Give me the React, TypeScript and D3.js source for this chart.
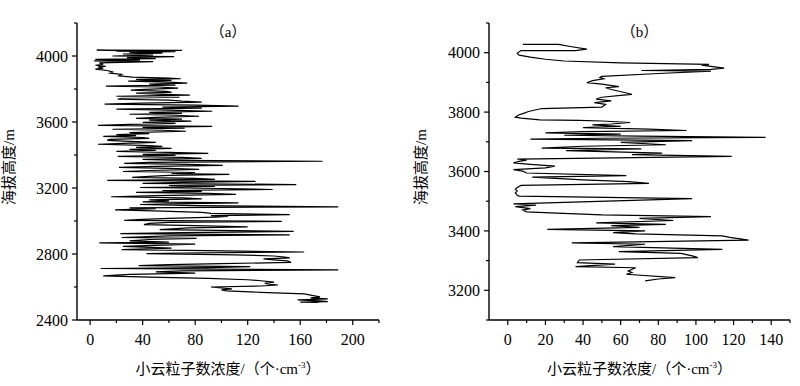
import React from "react";
import * as d3 from "d3";

// Panel (a): [altitude m, concentration] from top to bottom
const profileA: [number, number][] = [
  [4030, 42], [4036, 5], [4034, 70], [4030, 20], [4026, 65], [4022, 30], [4018, 55], [4012, 25],
  [4006, 48], [4000, 17], [3996, 64], [3990, 28], [3984, 50], [3980, 4], [3975, 38], [3970, 3],
  [3966, 48], [3958, 7], [3950, 10], [3944, 4], [3938, 12], [3932, 6], [3926, 10], [3920, 4],
  [3912, 13], [3904, 17], [3896, 15], [3888, 24], [3880, 22], [3872, 32], [3866, 60], [3862, 69],
  [3858, 35], [3852, 62], [3848, 29], [3842, 60], [3836, 74], [3830, 45], [3824, 65], [3818, 12],
  [3812, 52], [3805, 67], [3798, 42], [3793, 31], [3786, 58], [3780, 62], [3775, 35], [3768, 55],
  [3763, 76], [3756, 20], [3750, 68], [3744, 24], [3738, 21], [3732, 60], [3726, 70], [3720, 85],
  [3714, 40], [3708, 11], [3702, 80], [3696, 113], [3690, 55], [3684, 85], [3678, 20], [3672, 60],
  [3665, 93], [3658, 45], [3652, 70], [3647, 30], [3641, 65], [3635, 83], [3628, 50], [3622, 35],
  [3617, 70], [3611, 45], [3605, 77], [3598, 40], [3592, 65], [3586, 30], [3580, 6], [3574, 93],
  [3568, 40], [3562, 72], [3556, 17], [3550, 55], [3544, 73], [3536, 30], [3530, 45], [3524, 20],
  [3518, 35], [3513, 10], [3506, 40], [3501, 45], [3495, 15], [3489, 13], [3482, 30], [3476, 50],
  [3470, 25], [3465, 6], [3458, 40], [3452, 55], [3446, 35], [3440, 62], [3434, 30], [3428, 50],
  [3422, 20], [3416, 60], [3410, 90], [3404, 40], [3398, 65], [3392, 21], [3386, 70], [3380, 85],
  [3374, 40], [3368, 68], [3362, 177], [3355, 45], [3349, 26], [3343, 75], [3337, 101], [3331, 50],
  [3325, 22], [3319, 60], [3313, 83], [3306, 45], [3300, 25], [3294, 80], [3288, 62], [3282, 106],
  [3276, 60], [3270, 45], [3264, 32], [3258, 80], [3252, 95], [3246, 13], [3240, 126], [3234, 70],
  [3228, 40], [3221, 157], [3215, 60], [3209, 95], [3203, 38], [3197, 100], [3191, 139], [3185, 55],
  [3179, 85], [3173, 35], [3167, 90], [3161, 111], [3154, 50], [3147, 16], [3140, 70], [3134, 85],
  [3128, 45], [3122, 60], [3116, 40], [3110, 113], [3104, 60], [3100, 38], [3093, 80], [3086, 189],
  [3080, 30], [3075, 50], [3068, 19], [3060, 55], [3052, 85], [3046, 92], [3039, 152], [3032, 92],
  [3028, 105], [3024, 95], [3016, 60], [3010, 40], [3004, 26], [2998, 146], [2992, 60], [2986, 45],
  [2978, 41], [2972, 80], [2964, 120], [2958, 75], [2948, 53], [2937, 155], [2930, 70], [2923, 23],
  [2916, 152], [2910, 60], [2900, 24], [2895, 81], [2888, 45], [2880, 30], [2872, 60], [2867, 7],
  [2860, 80], [2852, 50], [2846, 25], [2836, 62], [2826, 24], [2820, 89], [2812, 163], [2806, 70],
  [2802, 43], [2795, 110], [2788, 140], [2782, 148], [2776, 152], [2770, 132], [2764, 140], [2758, 150],
  [2749, 153], [2742, 100], [2736, 60], [2729, 37], [2724, 122], [2718, 90], [2712, 8], [2704, 189],
  [2698, 70], [2692, 50], [2684, 80], [2676, 30], [2668, 10], [2660, 45], [2652, 90], [2644, 120],
  [2638, 130], [2630, 140], [2624, 133], [2618, 135], [2612, 143], [2606, 130], [2600, 92], [2594, 100],
  [2589, 108], [2582, 100], [2576, 104], [2568, 130], [2558, 163], [2548, 170], [2540, 175], [2534, 168],
  [2528, 181], [2522, 158], [2516, 175], [2511, 181], [2508, 160], [2506, 174],
];

// Panel (b): [altitude m, concentration] from top to bottom
const profileB: [number, number][] = [
  [4028, 8], [4028, 27], [4020, 34], [4012, 42], [4007, 36], [4007, 7], [3998, 5], [3992, 6],
  [3985, 12], [3978, 20], [3972, 30], [3966, 60], [3961, 107], [3958, 103], [3952, 110], [3948, 115],
  [3944, 108], [3940, 71], [3938, 108], [3930, 80], [3920, 50], [3917, 49], [3912, 51], [3906, 45],
  [3899, 42], [3894, 50], [3886, 59], [3882, 52], [3876, 55], [3866, 62], [3860, 66], [3856, 60],
  [3850, 50], [3844, 47], [3838, 55], [3832, 46], [3826, 52], [3817, 50], [3812, 18], [3802, 11],
  [3795, 8], [3791, 6], [3783, 4], [3780, 7], [3774, 17], [3772, 38], [3770, 50], [3765, 65],
  [3760, 55], [3757, 45], [3752, 60], [3748, 40], [3743, 75], [3738, 95], [3734, 40], [3730, 20],
  [3726, 60], [3722, 30], [3719, 70], [3715, 137], [3712, 50], [3709, 12], [3704, 98], [3698, 60],
  [3690, 84], [3685, 40], [3679, 18], [3676, 71], [3670, 31], [3662, 82], [3657, 66], [3651, 119],
  [3642, 5], [3638, 10], [3634, 6], [3629, 3], [3624, 12], [3618, 25], [3612, 20], [3606, 3],
  [3601, 8], [3595, 10], [3586, 63], [3581, 13], [3572, 40], [3566, 64], [3560, 75], [3553, 7],
  [3546, 5], [3540, 4], [3534, 5], [3528, 4], [3520, 5], [3517, 6], [3509, 98], [3505, 80],
  [3496, 30], [3491, 3], [3487, 15], [3482, 4], [3475, 12], [3470, 8], [3464, 10], [3460, 26],
  [3454, 50], [3448, 108], [3442, 70], [3435, 88], [3427, 47], [3422, 84], [3418, 55], [3412, 70],
  [3405, 21], [3400, 73], [3394, 56], [3390, 68], [3383, 114], [3378, 118], [3369, 128], [3360, 34],
  [3355, 73], [3347, 56], [3338, 114], [3330, 59], [3324, 92], [3316, 98], [3310, 101], [3302, 38],
  [3293, 37], [3288, 57], [3280, 36], [3276, 68], [3265, 64], [3260, 66], [3254, 63], [3243, 89],
  [3238, 80], [3232, 73],
];

const xMajorA = [0, 40, 80, 120, 160, 200];
const xMinorA = [20, 60, 100, 140, 180, 220];
const yMajorA = [2400, 2800, 3200, 3600, 4000];
const yMinorA = [2600, 3000, 3400, 3800, 4200];

const xMajorB = [0, 20, 40, 60, 80, 100, 120, 140];
const xMinorB = [10, 30, 50, 70, 90, 110, 130, 150];
const yMajorB = [3200, 3400, 3600, 3800, 4000];
const yMinorB = [3100, 3300, 3500, 3700, 3900, 4100];

const titleA = "（a）";
const titleB = "（b）";
const yTitle = "海拔高度/m";
const xTitleMain = "小云粒子数浓度/（个·cm";
const xTitleSup = "-3";
const xTitleEnd = "）";

const FONT = "'Liberation Serif', 'Noto Sans CJK SC', serif";

type PanelProps = {
  data: [number, number][];
  xDomain: [number, number];
  yDomain: [number, number];
  xMajor: number[];
  xMinor: number[];
  yMajor: number[];
  yMinor: number[];
  left: number;
  right: number;
  top: number;
  bottom: number;
  title: string;
  yTitleX: number;
};

function Panel(p: PanelProps) {
  const x = d3.scaleLinear().domain(p.xDomain).range([p.left, p.right]);
  const y = d3.scaleLinear().domain(p.yDomain).range([p.bottom, p.top]);
  const line = d3
    .line<[number, number]>()
    .x((d) => x(d[1]))
    .y((d) => y(d[0]));
  const cx = (p.left + p.right) / 2;
  const yMid = 167;
  return (
    <g>
      <path d={line(p.data) || ""} fill="none" stroke="#000" strokeWidth={1.2} strokeLinejoin="miter" />
      <line x1={p.left} x2={p.left} y1={p.top} y2={p.bottom} stroke="#000" strokeWidth={1.4} />
      <line x1={p.left} x2={p.right} y1={p.bottom} y2={p.bottom} stroke="#000" strokeWidth={1.4} />
      {p.yMajor.map((v) => (
        <g key={"ym" + v}>
          <line x1={p.left - 5} x2={p.left} y1={y(v)} y2={y(v)} stroke="#000" strokeWidth={1.2} />
          <text x={p.left - 9} y={y(v)} dy="0.35em" textAnchor="end" fontSize={16} fontFamily={FONT}>
            {v}
          </text>
        </g>
      ))}
      {p.yMinor.map((v) => (
        <line key={"yn" + v} x1={p.left - 3} x2={p.left} y1={y(v)} y2={y(v)} stroke="#000" strokeWidth={1.2} />
      ))}
      {p.xMajor.map((v) => (
        <g key={"xm" + v}>
          <line x1={x(v)} x2={x(v)} y1={p.bottom} y2={p.bottom + 5} stroke="#000" strokeWidth={1.2} />
          <text x={x(v)} y={345} textAnchor="middle" fontSize={16} fontFamily={FONT}>
            {v}
          </text>
        </g>
      ))}
      {p.xMinor.map((v) => (
        <line key={"xn" + v} x1={x(v)} x2={x(v)} y1={p.bottom} y2={p.bottom + 3} stroke="#000" strokeWidth={1.2} />
      ))}
      <text x={cx} y={37} textAnchor="middle" fontSize={15} fontFamily={FONT}>
        {p.title}
      </text>
      <text x={cx} y={374} textAnchor="middle" fontSize={15} fontFamily={FONT}>
        {xTitleMain}
        <tspan fontSize={9} dy={-6}>{xTitleSup}</tspan>
        <tspan dy={6}>{xTitleEnd}</tspan>
      </text>
      <text
        transform={`translate(${p.yTitleX},${yMid}) rotate(-90)`}
        textAnchor="middle"
        fontSize={15}
        fontFamily={FONT}
      >
        {yTitle}
      </text>
    </g>
  );
}

export default function App() {
  return (
    <svg
      width={800}
      height={386}
      style={{ position: "absolute", left: 0, top: 0, background: "#fff" }}
    >
      <rect width={800} height={386} fill="#fff" />
      <Panel
        data={profileA}
        xDomain={[-10, 220]}
        yDomain={[2400, 4200]}
        xMajor={xMajorA}
        xMinor={xMinorA}
        yMajor={yMajorA}
        yMinor={yMinorA}
        left={77}
        right={379}
        top={23}
        bottom={320}
        title={titleA}
        yTitleX={14}
      />
      <Panel
        data={profileB}
        xDomain={[-10, 150]}
        yDomain={[3100, 4100]}
        xMajor={xMajorB}
        xMinor={xMinorB}
        yMajor={yMajorB}
        yMinor={yMinorB}
        left={489}
        right={790}
        top={23}
        bottom={320}
        title={titleB}
        yTitleX={426}
      />
    </svg>
  );
}
